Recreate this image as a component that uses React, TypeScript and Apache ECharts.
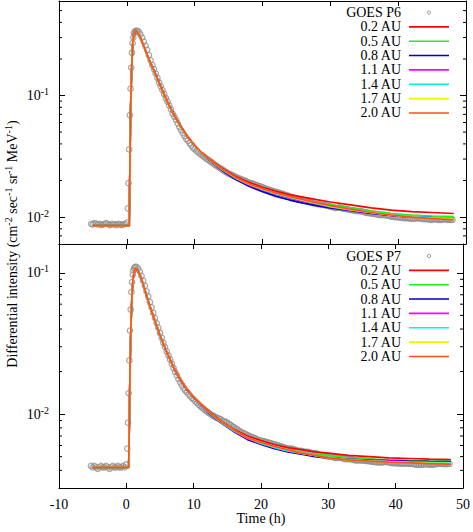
import React, { useEffect, useRef } from 'react';
import * as echarts from 'echarts';

const FONT = "'Liberation Serif', 'Times New Roman', serif";

// axis settings
const X_MIN = -10;
const X_MAX = 50;
const X_STEP = 10;
const TOP_Y_MIN = 0.006;
const TOP_Y_MAX = 0.6;
const BOT_Y_MIN = 0.003;
const BOT_Y_MAX = 0.16;

const xLabel = 'Time (h)';
const obsNameTop = 'GOES P6';
const obsNameBot = 'GOES P7';
const modelNames = ['0.2 AU', '0.5 AU', '0.8 AU', '1.1 AU', '1.4 AU', '1.7 AU', '2.0 AU'];
const modelColors = ['#ff0000', '#22f022', '#0000c0', '#ff00ff', '#00f0f0', '#f0f000', '#ff5018'];
const obsColor = '#8e8e8e';

// minor tick values of the log axes
const minorTop = [0.007, 0.008, 0.009, 0.02, 0.03, 0.04, 0.05, 0.06, 0.07, 0.08, 0.09, 0.2, 0.3, 0.4, 0.5];
const minorBot = [0.004, 0.005, 0.006, 0.007, 0.008, 0.009, 0.02, 0.03, 0.04, 0.05, 0.06, 0.07, 0.08, 0.09];

// model time grid (h)
const modelT = [-5, 0.35, 0.45, 0.55, 0.7, 0.85, 1.0, 1.3, 1.6, 2, 2.5, 3, 3.5, 4, 5, 6, 7, 8, 9,
  10, 11, 12, 14, 16, 18, 20, 22, 24, 26, 28, 30, 33, 36, 39, 42, 45, 48.2];

// GOES P6 models
const p6_02 = [0.0085, 0.0085, 0.024, 0.073, 0.155, 0.25, 0.31, 0.34, 0.328, 0.30, 0.255, 0.216, 0.186, 0.161, 0.119, 0.089, 0.069, 0.0555, 0.046,
  0.039, 0.034, 0.0305, 0.0253, 0.0217, 0.0193, 0.0176, 0.0163, 0.0153, 0.0146, 0.0139, 0.0133, 0.0126, 0.0119, 0.0114, 0.0111, 0.0109, 0.0107];
const p6_05 = [0.0085, 0.0085, 0.025, 0.075, 0.16, 0.26, 0.32, 0.345, 0.33, 0.30, 0.255, 0.215, 0.185, 0.16, 0.118, 0.088, 0.068, 0.055, 0.0453,
  0.0388, 0.0337, 0.0298, 0.0244, 0.0207, 0.0182, 0.0166, 0.0154, 0.0145, 0.0137, 0.0131, 0.0126, 0.0119, 0.0112, 0.0107, 0.0104, 0.0102, 0.0101];
const p6_08 = [0.0085, 0.0085, 0.025, 0.075, 0.16, 0.26, 0.32, 0.345, 0.33, 0.30, 0.256, 0.216, 0.186, 0.161, 0.119, 0.088, 0.068, 0.055, 0.0454,
  0.0389, 0.0338, 0.0299, 0.0243, 0.0205, 0.0179, 0.0162, 0.0148, 0.0138, 0.0130, 0.0124, 0.0119, 0.0113, 0.0107, 0.0103, 0.0100, 0.0099, 0.0098];
const p6_11 = [0.0085, 0.0085, 0.025, 0.075, 0.16, 0.26, 0.32, 0.345, 0.33, 0.30, 0.255, 0.215, 0.185, 0.16, 0.118, 0.088, 0.068, 0.055, 0.0455,
  0.0389, 0.0339, 0.0300, 0.0246, 0.0209, 0.0184, 0.0167, 0.0154, 0.0144, 0.0135, 0.0128, 0.0121, 0.0114, 0.0108, 0.0103, 0.0100, 0.0098, 0.0097];
const p6_14 = [0.0085, 0.0085, 0.025, 0.075, 0.16, 0.26, 0.32, 0.345, 0.33, 0.30, 0.255, 0.215, 0.185, 0.16, 0.118, 0.088, 0.068, 0.055, 0.0455,
  0.0389, 0.0339, 0.0301, 0.0247, 0.0210, 0.0186, 0.0169, 0.0156, 0.0146, 0.0137, 0.0129, 0.0122, 0.0115, 0.0109, 0.0104, 0.0101, 0.0099, 0.0098];
const p6_17 = [0.0085, 0.0085, 0.025, 0.075, 0.16, 0.26, 0.32, 0.345, 0.33, 0.30, 0.255, 0.215, 0.185, 0.16, 0.118, 0.088, 0.068, 0.055, 0.0455,
  0.039, 0.034, 0.0302, 0.0249, 0.0212, 0.0187, 0.0170, 0.0157, 0.0147, 0.0138, 0.0130, 0.0123, 0.0115, 0.0109, 0.0104, 0.0100, 0.0097, 0.0096];
const p6_20 = [0.0085, 0.0085, 0.025, 0.075, 0.16, 0.26, 0.32, 0.345, 0.33, 0.30, 0.255, 0.215, 0.185, 0.16, 0.118, 0.088, 0.068, 0.055, 0.0455,
  0.039, 0.034, 0.0303, 0.0250, 0.0213, 0.0188, 0.0171, 0.0158, 0.0148, 0.0139, 0.0131, 0.0124, 0.0116, 0.0109, 0.0104, 0.0100, 0.0097, 0.0095];

// GOES P7 models
const p7_02 = [0.0042, 0.0042, 0.0088, 0.021, 0.044, 0.070, 0.090, 0.106, 0.105, 0.097, 0.083, 0.069, 0.058, 0.0498, 0.0362, 0.0277, 0.0217, 0.0178, 0.0152,
  0.0132, 0.0118, 0.0107, 0.0090, 0.0078, 0.0070, 0.0065, 0.0061, 0.0058, 0.0056, 0.0054, 0.0053, 0.0051, 0.0050, 0.0049, 0.00485, 0.0048, 0.00477];
const p7_05 = [0.0042, 0.0042, 0.009, 0.022, 0.045, 0.072, 0.092, 0.108, 0.106, 0.098, 0.083, 0.069, 0.058, 0.0495, 0.036, 0.0274, 0.0214, 0.0175, 0.0149,
  0.0131, 0.0117, 0.0105, 0.0088, 0.0076, 0.0067, 0.0062, 0.0058, 0.0055, 0.0053, 0.0052, 0.0051, 0.0049, 0.0048, 0.00475, 0.0047, 0.00466, 0.00463];
const p7_08 = [0.0042, 0.0042, 0.009, 0.022, 0.045, 0.072, 0.092, 0.108, 0.106, 0.098, 0.083, 0.069, 0.058, 0.0495, 0.036, 0.0274, 0.0213, 0.0174, 0.0148,
  0.0131, 0.0116, 0.0104, 0.0087, 0.0075, 0.0066, 0.0061, 0.0057, 0.0054, 0.0052, 0.0050, 0.0049, 0.00478, 0.00472, 0.00468, 0.00465, 0.00463, 0.00462];
const p7_11 = [0.0042, 0.0042, 0.009, 0.022, 0.045, 0.072, 0.092, 0.108, 0.106, 0.098, 0.083, 0.069, 0.058, 0.0496, 0.036, 0.0275, 0.0214, 0.0175, 0.0149,
  0.0131, 0.0117, 0.0105, 0.0088, 0.0076, 0.0067, 0.0062, 0.0058, 0.0055, 0.0053, 0.0051, 0.0049, 0.00478, 0.0047, 0.00465, 0.0046, 0.00458, 0.00456];
const p7_14 = [0.0042, 0.0042, 0.009, 0.022, 0.045, 0.072, 0.092, 0.108, 0.106, 0.098, 0.083, 0.069, 0.058, 0.0496, 0.036, 0.0275, 0.0215, 0.0176, 0.015,
  0.0132, 0.0117, 0.0105, 0.0088, 0.0076, 0.0068, 0.0062, 0.0058, 0.0055, 0.0053, 0.0051, 0.0049, 0.00476, 0.00467, 0.00461, 0.00457, 0.00454, 0.00452];
const p7_17 = [0.0042, 0.0042, 0.009, 0.022, 0.045, 0.072, 0.092, 0.108, 0.106, 0.098, 0.083, 0.069, 0.058, 0.0496, 0.036, 0.0275, 0.0215, 0.0176, 0.015,
  0.0132, 0.0118, 0.0106, 0.0089, 0.0077, 0.0068, 0.0063, 0.0059, 0.0056, 0.0053, 0.0051, 0.0049, 0.00475, 0.00466, 0.00459, 0.00454, 0.0045, 0.00448];
const p7_20 = [0.0042, 0.0042, 0.009, 0.022, 0.045, 0.072, 0.092, 0.108, 0.106, 0.098, 0.083, 0.069, 0.058, 0.0496, 0.036, 0.0275, 0.0215, 0.0176, 0.015,
  0.0132, 0.0118, 0.0106, 0.0089, 0.0077, 0.0068, 0.0063, 0.0059, 0.0056, 0.0053, 0.0051, 0.0049, 0.00475, 0.00465, 0.00458, 0.00452, 0.00446, 0.00442];

// observation times (h)
const obsT = [
  -5.25, -5, -4.75, -4.5, -4.25, -4, -3.75, -3.5, -3.25, -3, -2.75, -2.5, -2.25, -2, -1.75, -1.5, -1.25, -1, -0.75, -0.5, -0.25, 0,
  0.15, 0.25, 0.35, 0.45, 0.55, 0.65, 0.75, 0.85, 0.95, 1.05, 1.15, 1.3,
  1.5, 1.75,
  2, 2.25, 2.5, 2.75, 3, 3.25, 3.5, 3.75, 4, 4.25, 4.5, 4.75, 5, 5.25, 5.5, 5.75,
  6, 6.25, 6.5, 6.75, 7, 7.25, 7.5, 7.75, 8, 8.25, 8.5, 8.75, 9, 9.25, 9.5, 9.75,
  10, 10.25, 10.5, 10.75, 11, 11.25, 11.5, 11.75, 12, 12.25, 12.5, 12.75, 13, 13.25, 13.5, 13.75,
  14, 14.25, 14.5, 14.75, 15, 15.25, 15.5, 15.75, 16, 16.25, 16.5, 16.75, 17, 17.25, 17.5, 17.75,
  18, 18.25, 18.5, 18.75, 19, 19.25, 19.5, 19.75, 20, 20.25, 20.5, 20.75, 21, 21.25, 21.5, 21.75,
  22, 22.25, 22.5, 22.75, 23, 23.25, 23.5, 23.75, 24, 24.25, 24.5, 24.75, 25, 25.25, 25.5, 25.75,
  26, 26.25, 26.5, 26.75, 27, 27.25, 27.5, 27.75, 28, 28.25, 28.5, 28.75, 29, 29.25, 29.5, 29.75,
  30, 30.25, 30.5, 30.75, 31, 31.25, 31.5, 31.75, 32, 32.25, 32.5, 32.75, 33, 33.25, 33.5, 33.75,
  34, 34.25, 34.5, 34.75, 35, 35.25, 35.5, 35.75, 36, 36.25, 36.5, 36.75, 37, 37.25, 37.5, 37.75,
  38, 38.25, 38.5, 38.75, 39, 39.25, 39.5, 39.75, 40, 40.25, 40.5, 40.75, 41, 41.25, 41.5, 41.75,
  42, 42.25, 42.5, 42.75, 43, 43.25, 43.5, 43.75, 44, 44.25, 44.5, 44.75, 45, 45.25, 45.5, 45.75,
  46, 46.25, 46.5, 46.75, 47, 47.25, 47.5, 47.75, 48];

const obsP6 = [
  0.0088, 0.0087, 0.0089, 0.0088, 0.0087, 0.0088, 0.0086, 0.0087, 0.0088, 0.0089, 0.0087, 0.0086, 0.0088, 0.0087, 0.0087, 0.0086, 0.0088, 0.0087, 0.0086, 0.0087, 0.0088, 0.0090,
  0.0118, 0.019, 0.036, 0.069, 0.114, 0.17, 0.225, 0.27, 0.30, 0.325, 0.335, 0.34,
  0.342, 0.335,
  0.318, 0.30, 0.278, 0.258, 0.238, 0.215, 0.195, 0.178, 0.165, 0.152, 0.140, 0.128, 0.119, 0.111, 0.103, 0.095,
  0.089, 0.083, 0.077, 0.071, 0.067, 0.063, 0.059, 0.055, 0.052, 0.049, 0.0465, 0.044, 0.0425, 0.0405, 0.039, 0.0372,
  0.0362, 0.0352, 0.0343, 0.0333, 0.0325, 0.0318, 0.0310, 0.0302, 0.0295, 0.0289, 0.0283, 0.0275, 0.0269, 0.0264, 0.0258, 0.0253,
  0.0248, 0.0242, 0.0237, 0.0232, 0.0228, 0.0225, 0.0221, 0.0218, 0.0215, 0.0211, 0.0208, 0.0206, 0.0203, 0.0200, 0.0198, 0.0195,
  0.0192, 0.0190, 0.0189, 0.0186, 0.0184, 0.0182, 0.0180, 0.0178, 0.0176, 0.0173, 0.0171, 0.0169, 0.0167, 0.0166, 0.0164, 0.0162,
  0.0161, 0.0159, 0.0158, 0.0156, 0.0155, 0.0153, 0.0151, 0.0150, 0.0148, 0.0146, 0.0145, 0.0143, 0.0141, 0.0140, 0.0139, 0.0138,
  0.0137, 0.0137, 0.0136, 0.0134, 0.0133, 0.0131, 0.0130, 0.0129, 0.0128, 0.0128, 0.0127, 0.0126, 0.0126, 0.0125, 0.0124, 0.0123,
  0.0122, 0.0121, 0.0120, 0.0119, 0.0119, 0.0120, 0.0119, 0.0118, 0.0117, 0.0117, 0.0116, 0.0115, 0.0114, 0.0114, 0.0113, 0.0113,
  0.0112, 0.0112, 0.0112, 0.0111, 0.0110, 0.0109, 0.0108, 0.0108, 0.0107, 0.0107, 0.0106, 0.0105, 0.0105, 0.0104, 0.0104, 0.0104,
  0.0104, 0.0103, 0.0103, 0.0102, 0.0101, 0.0101, 0.0100, 0.0100, 0.0100, 0.0099, 0.0099, 0.0098, 0.0098, 0.0098, 0.0098, 0.0097,
  0.0097, 0.0097, 0.0097, 0.0098, 0.0098, 0.0097, 0.0097, 0.0096, 0.0096, 0.0096, 0.0096, 0.0095, 0.0095, 0.0096, 0.0096, 0.0095,
  0.0095, 0.0095, 0.0095, 0.0096, 0.0096, 0.0095, 0.0095, 0.0095, 0.0095];

const obsP7 = [
  0.0043, 0.0042, 0.0043, 0.0042, 0.0041, 0.0042, 0.0043, 0.0042, 0.0042, 0.0043, 0.0042, 0.0041, 0.0042, 0.0043, 0.0042, 0.0042, 0.0043, 0.0042, 0.0042, 0.0043, 0.0042, 0.0044,
  0.0057, 0.0087, 0.0141, 0.024, 0.039, 0.055, 0.073, 0.086, 0.097, 0.104, 0.108, 0.110,
  0.110, 0.107,
  0.102, 0.095, 0.088, 0.081, 0.074, 0.068, 0.062, 0.057, 0.052, 0.048, 0.044, 0.0408, 0.0375, 0.0347, 0.032, 0.0298,
  0.0278, 0.026, 0.0244, 0.0228, 0.0212, 0.0199, 0.0188, 0.0177, 0.0168, 0.0160, 0.0152, 0.0147, 0.0143, 0.0138, 0.0134, 0.0130,
  0.0127, 0.0123, 0.0120, 0.0117, 0.0114, 0.0111, 0.0109, 0.0106, 0.0104, 0.0102, 0.0100, 0.0098, 0.0097, 0.0095, 0.0094, 0.0093,
  0.0092, 0.0090, 0.0089, 0.0088, 0.0087, 0.0085, 0.0084, 0.0082, 0.0081, 0.0079, 0.0078, 0.0076, 0.0075, 0.0074, 0.0073, 0.0072,
  0.0071, 0.0070, 0.0069, 0.00685, 0.0068, 0.0067, 0.0066, 0.00655, 0.0065, 0.00645, 0.0064, 0.00635, 0.0063, 0.00625, 0.0062, 0.00615,
  0.0061, 0.00605, 0.0060, 0.00595, 0.0059, 0.00585, 0.0058, 0.00575, 0.0057, 0.0057, 0.0057, 0.00565, 0.0056, 0.00555, 0.0055, 0.0055,
  0.0055, 0.00545, 0.0054, 0.0054, 0.0054, 0.00535, 0.0053, 0.0053, 0.0053, 0.00525, 0.0052, 0.00515, 0.0051, 0.0051, 0.0051, 0.00505,
  0.0050, 0.0050, 0.0050, 0.00495, 0.0049, 0.0049, 0.0049, 0.0049, 0.0049, 0.00485, 0.0048, 0.0048, 0.0048, 0.0048, 0.0048, 0.00475,
  0.0047, 0.0047, 0.0047, 0.0047, 0.0047, 0.00468, 0.00468, 0.00466, 0.00465, 0.00463, 0.00462, 0.0046, 0.00458, 0.00456, 0.00455, 0.00455,
  0.00455, 0.00458, 0.0046, 0.00458, 0.00455, 0.00452, 0.0045, 0.0045, 0.0045, 0.00449, 0.00448, 0.00447, 0.00446, 0.00447, 0.00448, 0.00446,
  0.00445, 0.00444, 0.00444, 0.00442, 0.0044, 0.00439, 0.00438, 0.00439, 0.0044, 0.00441, 0.00442, 0.00441, 0.0044, 0.0044, 0.0044, 0.00441,
  0.00442, 0.00444, 0.00445, 0.00445, 0.00444, 0.00443, 0.00443, 0.00444, 0.00445];

const modelsTop = [p6_02, p6_05, p6_08, p6_11, p6_14, p6_17, p6_20];
const modelsBot = [p7_02, p7_05, p7_08, p7_11, p7_14, p7_17, p7_20];

const zip = (xs: number[], ys: number[]) => xs.map((x, i) => [x, ys[i]]);

const richStyles = {
  b: { fontSize: 14, fontFamily: FONT, color: '#000', lineHeight: 18 },
  sup: { fontSize: 10, fontFamily: FONT, color: '#000', verticalAlign: 'top', lineHeight: 10 },
};

export default function App() {
  const ref = useRef<HTMLDivElement>(null);

  useEffect(() => {
    const chart = echarts.init(ref.current!, null, { renderer: 'svg' });

    const GRID_L = 59;
    const GRID_W = 407;
    const grids = [
      { left: GRID_L, top: 1, width: GRID_W, height: 243 },
      { left: GRID_L, top: 244, width: GRID_W, height: 244 },
    ];

    const xBase = (gridIndex: number, position: string, labels: boolean) => ({
      type: 'value',
      gridIndex,
      position,
      min: X_MIN,
      max: X_MAX,
      interval: X_STEP,
      splitLine: { show: false },
      axisLine: { show: true, onZero: false, lineStyle: { color: '#000', width: 1 } },
      axisTick: { show: true, inside: true, length: 5, lineStyle: { color: '#000', width: 1 } },
      axisLabel: { show: labels, color: '#000', fontSize: 14, fontFamily: FONT, margin: 9 },
    });

    const logFormatter = (v: number) => {
      const l = Math.log10(v);
      const e = Math.round(l);
      if (Math.abs(l - e) > 1e-6) return '';
      return `{b|10}{sup|${e}}`;
    };

    const yBase = (gridIndex: number, position: string, min: number, max: number, labels: boolean) => ({
      type: 'log',
      logBase: 10,
      gridIndex,
      position,
      min,
      max,
      splitLine: { show: false },
      axisLine: { show: true, onZero: false, lineStyle: { color: '#000', width: 1 } },
      axisTick: { show: true, inside: true, length: 6, lineStyle: { color: '#000', width: 1 } },
      minorTick: { show: false },
      axisLabel: { show: labels, formatter: logFormatter, rich: richStyles, margin: 10 },
    });

    const xAxes = [
      xBase(0, 'bottom', false),
      xBase(0, 'top', false),
      { ...xBase(1, 'bottom', true), name: xLabel, nameLocation: 'middle', nameGap: 22,
        nameTextStyle: { color: '#000', fontSize: 14, fontFamily: FONT } },
      xBase(1, 'top', false),
    ];
    const yAxes = [
      yBase(0, 'left', TOP_Y_MIN, TOP_Y_MAX, true),
      yBase(0, 'right', TOP_Y_MIN, TOP_Y_MAX, false),
      yBase(1, 'left', BOT_Y_MIN, BOT_Y_MAX, true),
      yBase(1, 'right', BOT_Y_MIN, BOT_Y_MAX, false),
    ];

    const minorSeries = (xi: number, yi: number, vals: number[]) => ({
      type: 'custom',
      xAxisIndex: xi,
      yAxisIndex: yi,
      silent: true,
      z: 5,
      data: vals.map((v) => [X_MIN, v]),
      renderItem: (_p: any, api: any) => {
        const v = api.value(1);
        const l = api.coord([X_MIN, v]);
        const r = api.coord([X_MAX, v]);
        return {
          type: 'group',
          children: [
            { type: 'line', shape: { x1: l[0], y1: l[1], x2: l[0] + 3, y2: l[1] }, style: { stroke: '#000', lineWidth: 1 } },
            { type: 'line', shape: { x1: r[0], y1: r[1], x2: r[0] - 3, y2: r[1] }, style: { stroke: '#000', lineWidth: 1 } },
          ],
        };
      },
    });

    const panelSeries = (xi: number, yi: number, obsName: string, obs: number[], models: number[][]) => [
      {
        type: 'scatter',
        name: obsName,
        xAxisIndex: xi,
        yAxisIndex: yi,
        silent: true,
        symbol: 'circle',
        symbolSize: 5.5,
        itemStyle: { color: 'rgba(255,255,255,0)', borderColor: obsColor, borderWidth: 1.2 },
        data: zip(obsT, obs),
        z: 2,
      },
      ...models.map((m, i) => ({
        type: 'line',
        name: modelNames[i],
        xAxisIndex: xi,
        yAxisIndex: yi,
        silent: true,
        showSymbol: false,
        symbol: 'none',
        lineStyle: { color: modelColors[i], width: 1.7 },
        itemStyle: { color: modelColors[i] },
        data: zip(modelT, m),
        z: 3,
      })),
    ];

    const TEXT_R = 401;
    const LINE_X1 = 409;
    const LINE_X2 = 449;
    const ROW = 14.35;
    const legendGraphic = (y0: number, title: string) => {
      const els: any[] = [
        { type: 'text', x: TEXT_R, y: y0, style: { text: title, fontSize: 14, fontFamily: FONT, fill: '#000', align: 'right', verticalAlign: 'middle' } },
        { type: 'circle', shape: { cx: (LINE_X1 + LINE_X2) / 2, cy: y0, r: 1.6 }, style: { fill: 'none', stroke: obsColor, lineWidth: 1 } },
      ];
      modelNames.forEach((n, i) => {
        const y = y0 + ROW * (i + 1);
        els.push({ type: 'text', x: TEXT_R, y, style: { text: n, fontSize: 14, fontFamily: FONT, fill: '#000', align: 'right', verticalAlign: 'middle' } });
        els.push({ type: 'line', shape: { x1: LINE_X1, y1: y, x2: LINE_X2, y2: y }, style: { stroke: modelColors[i], lineWidth: 1.6 } });
      });
      return els;
    };

    const option: any = {
      animation: false,
      backgroundColor: '#fff',
      grid: grids,
      xAxis: xAxes,
      yAxis: yAxes,
      series: [
        ...panelSeries(0, 0, obsNameTop, obsP6, modelsTop),
        ...panelSeries(2, 2, obsNameBot, obsP7, modelsBot),
        minorSeries(0, 0, minorTop),
        minorSeries(2, 2, minorBot),
      ],
      graphic: [
        ...legendGraphic(12.5, obsNameTop),
        ...legendGraphic(256, obsNameBot),
        {
          type: 'text',
          x: 12,
          y: 244,
          rotation: Math.PI / 2,
          style: {
            text: '{b|Differential intensity (cm}{sup|-2}{b| sec}{sup|-1}{b| sr}{sup|-1}{b| MeV}{sup|-1}{b|)}',
            rich: richStyles,
            fontFamily: FONT,
            fontSize: 14,
            fill: '#000',
            align: 'center',
            verticalAlign: 'middle',
          },
        },
      ],
    };

    chart.setOption(option);
    return () => chart.dispose();
  }, []);

  return (
    <div
      ref={ref}
      style={{ position: 'fixed', left: 0, top: 0, width: 473, height: 532, background: '#fff' }}
    />
  );
}
